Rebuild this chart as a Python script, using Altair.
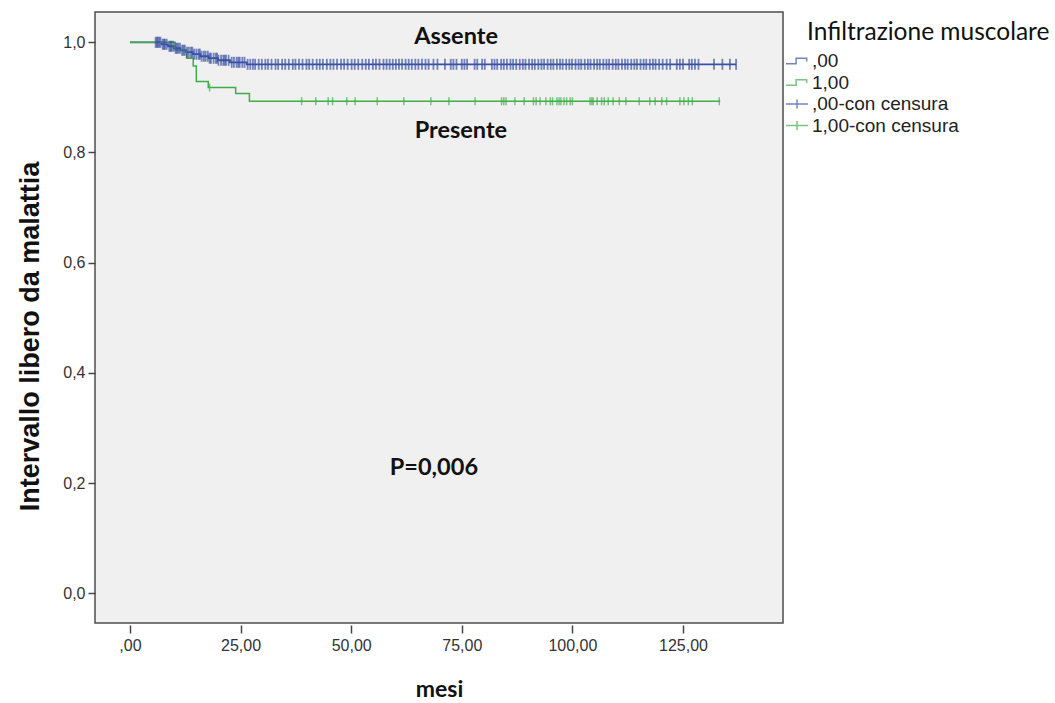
import altair as alt
import pandas as pd

# Kaplan-Meier: disease-free interval (months) by muscular infiltration
BLUE = "#3a51a3"
GREEN = "#3fae49"

# ",00" group (infiltration absent): event times and survival after each step
ABS_EVENT_T = [0.0, 7.2, 8.6, 9.9, 11.4, 12.7, 14.2, 15.9, 17.8, 19.9, 22.6, 26.4]
ABS_EVENT_S = [1.0, 0.9964, 0.9928, 0.9892, 0.9856, 0.9820, 0.9784, 0.9747,
               0.9711, 0.9674, 0.9637, 0.9600]
ABS_END = 137.0
ABS_CENSORED = [
    5.8, 6.1, 6.3, 6.6, 6.9, 7.4, 7.7, 7.9, 8.3, 8.9, 9.2, 9.4, 9.8, 10.3, 10.6,
    10.9, 11.3, 11.8, 12.1, 12.4, 12.9, 13.3, 13.8, 14.1, 14.5, 15.0, 15.5, 15.8,
    16.2, 16.7, 17.1, 17.6, 18.0, 18.3, 18.9, 19.4, 19.7, 20.0, 20.6, 21.1, 21.4,
    21.7, 22.3, 23.0, 23.5, 24.1, 24.5, 24.8, 25.4, 25.9, 26.6, 27.2, 27.8, 28.3,
    29.1, 29.8, 30.6, 31.2, 32.0, 32.9, 33.5, 34.4, 35.1, 35.9, 36.8, 37.4, 38.2,
    39.0, 39.9, 40.5, 41.3, 42.2, 42.9, 43.6, 44.5, 45.3, 46.0, 46.8, 47.7, 48.4,
    49.2, 50.1, 50.8, 51.6, 52.5, 53.3, 54.0, 54.9, 55.6, 56.4, 57.3, 58.0, 58.7,
    59.4, 60.1, 60.8, 61.5, 62.3, 63.0, 63.7, 64.5, 65.2, 66.0, 66.8, 67.5, 68.6,
    69.5, 71.2, 72.5, 73.1, 73.8, 75.0, 75.6, 76.2, 77.9, 78.5, 79.6, 80.2, 81.8,
    82.4, 83.0, 83.9, 84.5, 85.2, 86.0, 86.6, 87.3, 88.1, 88.8, 89.4, 90.2, 90.9,
    91.5, 92.3, 93.0, 93.6, 94.4, 95.1, 95.7, 96.5, 97.2, 97.8, 98.6, 99.3, 99.9,
    100.7, 101.4, 102.0, 102.8, 103.5, 104.1, 104.9, 105.6, 106.2, 107.0, 107.7,
    108.3, 109.1, 109.8, 110.4, 111.2, 111.9, 112.5, 113.3, 114.0, 114.6, 115.4,
    116.1, 116.7, 117.5, 118.2, 118.8, 119.6, 120.4, 121.3, 122.1, 123.6, 124.3,
    125.0, 126.4, 127.0, 127.7, 128.5, 132.0, 133.9, 135.6, 137.0,
]

# "1,00" group (infiltration present)
PRES_EVENT_T = [0.0, 10.2, 12.8, 14.3, 15.0, 17.7, 23.9, 27.0]
PRES_EVENT_S = [1.0, 0.986, 0.971, 0.957, 0.929, 0.918, 0.907, 0.893]
PRES_END = 133.4
PRES_CENSORED = [
    18.0, 38.8, 42.0, 44.8, 45.8, 49.0, 50.9, 55.9, 61.9, 68.0, 72.1, 78.0, 84.0,
    84.5, 85.0, 87.0, 89.1, 91.2, 91.8, 92.7, 94.0, 95.0, 95.5, 96.5, 97.0, 97.4,
    98.1, 98.7, 99.5, 100.0, 104.0, 104.4, 104.7, 105.6, 106.6, 107.2, 108.1,
    109.2, 110.6, 112.1, 115.1, 117.5, 118.7, 120.2, 121.3, 124.3, 125.2, 126.2,
    127.1, 133.2,
]

X_TICKS = [0, 25, 50, 75, 100, 125]
X_TICK_LABELS = [",00", "25,00", "50,00", "75,00", "100,00", "125,00"]
Y_TICKS = [0.0, 0.2, 0.4, 0.6, 0.8, 1.0]
Y_TICK_LABELS = ["0,0", "0,2", "0,4", "0,6", "0,8", "1,0"]

LEGEND_TITLE = "Infiltrazione muscolare"
LEGEND_ITEMS = [",00", "1,00", ",00-con censura", "1,00-con censura"]

NOTE_TEXT = ["Assente", "Presente", "P=0,006"]
NOTE_T = [73.7, 74.8, 68.7]
NOTE_S = [1.010, 0.8396, 0.2276]


def survival_at(t, times, values):
    s = values[0]
    for tt, vv in zip(times, values):
        if tt <= t:
            s = vv
    return s


def curve_frame(times, values, end):
    return pd.DataFrame({"t": times + [end], "s": values + [values[-1]]})


def censor_frame(cens, times, values):
    return pd.DataFrame({"t": cens, "s": [survival_at(c, times, values) for c in cens]})


def label_expr(ticks, labels):
    expr = "''"
    for v, lab in zip(reversed(ticks), reversed(labels)):
        expr = f"abs(datum.value - {v}) < 1e-6 ? '{lab}' : ({expr})"
    return expr


x_scale = alt.Scale(domain=[-7.9, 147.6], nice=False, zero=False)
y_scale = alt.Scale(domain=[-0.054, 1.055], nice=False, zero=False)

x_axis = alt.Axis(
    values=X_TICKS, labelExpr=label_expr(X_TICKS, X_TICK_LABELS), title="mesi",
    grid=False, domain=False, offset=2, tickSize=8, tickWidth=1.5, tickColor="#444",
    labelFont="Liberation Sans", labelFontSize=16, labelColor="#333", labelPadding=4,
    titleFont="Lato", titleFontSize=23, titleFontWeight="bold", titleColor="#111",
    titlePadding=25,
)
y_axis = alt.Axis(
    values=Y_TICKS, labelExpr=label_expr(Y_TICKS, Y_TICK_LABELS),
    title="Intervallo libero da malattia", titleY=324,
    grid=False, domain=False, tickSize=7, tickWidth=1.5, tickColor="#444",
    labelFont="Liberation Sans", labelFontSize=16, labelColor="#333", labelPadding=3,
    titleFont="Liberation Sans", titleFontSize=27, titleFontWeight="bold",
    titleColor="#111", titlePadding=18,
)


def step_line(df, color, width):
    return alt.Chart(df).mark_line(interpolate="step-after", color=color,
                                   strokeWidth=width).encode(
        x=alt.X("t:Q", scale=x_scale, axis=x_axis),
        y=alt.Y("s:Q", scale=y_scale, axis=y_axis),
    )


def censor_ticks(df, color, size, thickness):
    return alt.Chart(df).mark_tick(orient="vertical", color=color, size=size,
                                   thickness=thickness).encode(
        x=alt.X("t:Q", scale=x_scale),
        y=alt.Y("s:Q", scale=y_scale),
    )


abs_line = step_line(curve_frame(ABS_EVENT_T, ABS_EVENT_S, ABS_END), BLUE, 1.8)
pres_line = step_line(curve_frame(PRES_EVENT_T, PRES_EVENT_S, PRES_END), GREEN, 1.5)
abs_cens = censor_ticks(censor_frame(ABS_CENSORED, ABS_EVENT_T, ABS_EVENT_S), BLUE, 11, 1.8)
pres_cens = censor_ticks(censor_frame(PRES_CENSORED, PRES_EVENT_T, PRES_EVENT_S), GREEN, 8, 1.5)

notes = alt.Chart(pd.DataFrame({"t": NOTE_T, "s": NOTE_S, "label": NOTE_TEXT})).mark_text(
    font="Lato", fontSize=23.5, fontWeight="bold", color="#111", baseline="middle",
    align="center",
).encode(
    x=alt.X("t:Q", scale=x_scale),
    y=alt.Y("s:Q", scale=y_scale),
    text="label:N",
)

# legend: step symbols for the curves, crosses for censored cases
STEP_PATH = "M-1.25,0.3L-0.1,0.3L-0.1,-0.3L1.1,-0.3L1.1,0.05"
CROSS_PATH = "M-1.25,0L1.25,0M0,-0.5L0,0.5"
legend_props = dict(
    orient="none", legendX=692, legendY=39, padding=0, title=None,
    labelFont="Liberation Sans", labelFontSize=19, labelColor="#222",
    symbolSize=310, symbolStrokeWidth=1.5, labelOffset=5,
    rowPadding=1.5,
)
legend_layer = alt.Chart(pd.DataFrame({"serie": LEGEND_ITEMS})).mark_point(
    filled=False, clip=True, strokeWidth=1.5
).encode(
    x=alt.value(-200), y=alt.value(-200),
    color=alt.Color("serie:N", scale=alt.Scale(domain=LEGEND_ITEMS,
                                               range=[BLUE, GREEN, BLUE, GREEN]),
                    legend=alt.Legend(**legend_props)),
    shape=alt.Shape("serie:N", scale=alt.Scale(domain=LEGEND_ITEMS,
                                               range=[STEP_PATH, STEP_PATH, CROSS_PATH, CROSS_PATH]),
                    legend=alt.Legend(**legend_props)),
)

# heading above the legend entries
legend_title = alt.Chart(pd.DataFrame({"label": [LEGEND_TITLE]})).mark_text(
    font="Lato", fontSize=24.5, color="#111", align="left", baseline="middle",
).encode(
    x=alt.value(712), y=alt.value(21), text="label:N",
)

# green curve over the blue line, blue censor marks on top of both
chart = alt.layer(
    abs_line, pres_line, abs_cens, pres_cens, notes, legend_layer, legend_title
).properties(
    width=688, height=611,
    padding={"left": 95, "top": 12, "right": 272, "bottom": 80},
    autosize=alt.AutoSizeParams(type="none"),
    background="white",
).configure_view(
    fill="#f0f0f0", stroke="#4d4d4d", strokeWidth=1.5,
)

chart.save("out.html", embed_options={"renderer": "svg", "actions": False})
